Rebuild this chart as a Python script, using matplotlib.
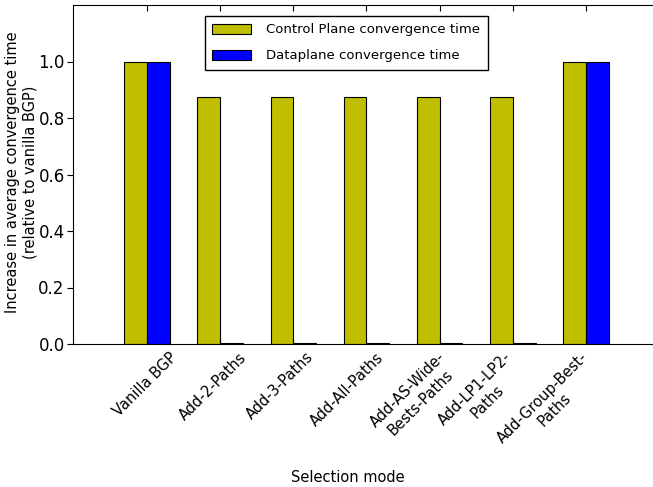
import numpy as np
import matplotlib
matplotlib.use("Agg")
import matplotlib.pyplot as plt

# data
modes = ["Vanilla BGP", "Add-2-Paths", "Add-3-Paths", "Add-All-Paths",
         "Add-AS-Wide-\nBests-Paths", "Add-LP1-LP2-\nPaths", "Add-Group-Best-\nPaths"]
control_plane = [1.0, 0.875, 0.875, 0.875, 0.875, 0.875, 1.0]
data_plane = [1.0, 0.002, 0.002, 0.002, 0.002, 0.002, 1.0]

width = 0.31
x = np.arange(len(modes))

fig = plt.figure(figsize=(6.53, 4.87), dpi=100)
ax = fig.add_axes([73 / 653, 1 - 344 / 487, 584 / 653, 339 / 487])

ax.bar(x, control_plane, width, color=(0.75, 0.75, 0), edgecolor="black",
       linewidth=0.8, align="edge", label="Control Plane convergence time")
ax.bar(x + width, data_plane, width, color="blue", edgecolor="black",
       linewidth=0.8, align="edge", label="Dataplane convergence time")

ax.set_xlim(-0.7, 7.28)
ax.set_ylim(0, 1.2)
ax.set_yticks([0.0, 0.2, 0.4, 0.6, 0.8, 1.0])
ax.set_yticklabels(["0.0", "0.2", "0.4", "0.6", "0.8", "1.0"], fontsize=12)
ax.tick_params(axis="y", direction="out", length=4, pad=2)

# tick marks at group centres (inward, top and bottom), labels drifted a bit left like the original
ax.set_xticks(x + width)
ax.set_xticklabels([])
ax.tick_params(axis="x", which="major", direction="in", length=4, top=True, bottom=True)
ax.set_xticks(x * 0.918 + 0.29, minor=True)
ax.set_xticklabels(modes, minor=True, rotation=45, ha="center", fontsize=10.5)
ax.tick_params(axis="x", which="minor", length=0, pad=4)
ax.spines["right"].set_visible(False)

ax.set_ylabel("Increase in average convergence time\n(relative to vanilla BGP)", fontsize=10.5)
ax.yaxis.set_label_coords(-0.0616, 0.507)
ax.set_xlabel("Selection mode", fontsize=10.5)
ax.xaxis.set_label_coords(0.471, -0.372)

ax.legend(loc="upper left", bbox_to_anchor=(205 / 653, 1 - 16 / 487),
          bbox_transform=fig.transFigure, fontsize=9.5, fancybox=False,
          framealpha=1, edgecolor="black", borderaxespad=0, borderpad=0.55,
          labelspacing=1.0, handlelength=2.9, handleheight=0.8, handletextpad=1.2)

fig.savefig("out.png", dpi=100)
